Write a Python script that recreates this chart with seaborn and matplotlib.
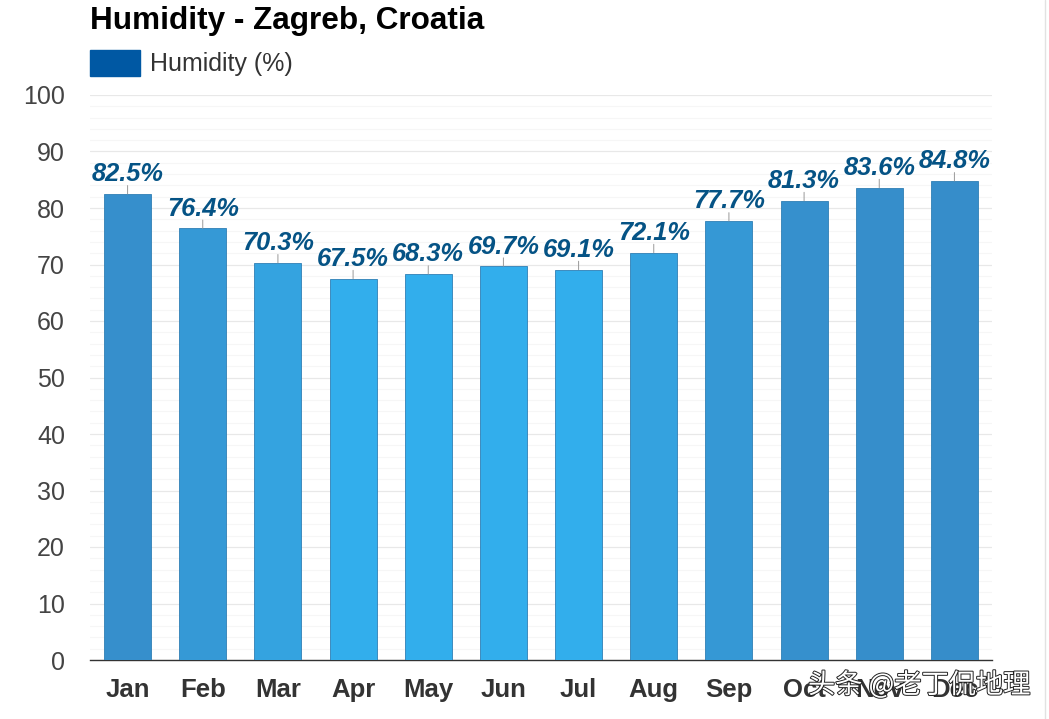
import matplotlib
matplotlib.use("Agg")
import matplotlib.pyplot as plt
import matplotlib.patheffects as pe
from matplotlib.lines import Line2D
from matplotlib.patches import Patch
import numpy as np
import pandas as pd
import seaborn as sns

months = ["Jan", "Feb", "Mar", "Apr", "May", "Jun", "Jul", "Aug", "Sep", "Oct", "Nov", "Dec"]
humidity = [82.5, 76.4, 70.3, 67.5, 68.3, 69.7, 69.1, 72.1, 77.7, 81.3, 83.6, 84.8]
bar_colors = ["#368fcc", "#3599d6", "#34a3e0", "#32aeec", "#32aeec", "#32aeec",
              "#32aeec", "#34a2df", "#3598d5", "#3690cd", "#368ecb", "#368dca"]
y_ticks = [0, 10, 20, 30, 40, 50, 60, 70, 80, 90, 100]

sns.set_theme(style="white")
plt.rcParams["font.family"] = ["Liberation Sans", "DejaVu Sans"]

df = pd.DataFrame({"month": months, "humidity": humidity})

fig = plt.figure(figsize=(10.49, 7.19), dpi=100)
ax = fig.add_axes([90 / 1049, 1 - 660 / 719, 902 / 1049, 565 / 719])

sns.barplot(data=df, x="month", y="humidity", hue="month", palette=bar_colors,
            saturation=1, width=0.625, legend=False, edgecolor="#2f7fb5", linewidth=0.6,
            ax=ax, zorder=3)

ax.set_xlim(-0.5, 11.5)
ax.set_ylim(0, 100)
ax.set_xlabel("")
ax.set_ylabel("")

# light grid, stronger every 10
ax.set_yticks(y_ticks)
ax.set_yticks(np.arange(0, 101, 2), minor=True)
ax.grid(axis="y", which="major", color="#e8e8e8", linewidth=0.9, zorder=0)
ax.grid(axis="y", which="minor", color="#f6f6f6", linewidth=0.8, zorder=0)
ax.set_axisbelow(True)

for side in ["top", "right", "left"]:
    ax.spines[side].set_visible(False)
ax.spines["bottom"].set_color("#333333")
ax.spines["bottom"].set_linewidth(1.0)

ax.tick_params(axis="y", which="both", length=0, labelsize=18, labelcolor="#444444", pad=18)
ax.tick_params(axis="x", length=0, labelsize=18.5, labelcolor="#333333", pad=13)
for lab in ax.get_xticklabels():
    lab.set_fontweight("bold")

# value labels with the small leader line
for i, v in enumerate(humidity):
    ax.annotate("", xy=(i, v), xytext=(0, 6), textcoords="offset points",
                arrowprops=dict(arrowstyle="-", color="#999999", lw=0.7, shrinkA=0, shrinkB=0))
    ax.annotate(f"{v}%", xy=(i, v), xytext=(0, 5.5), textcoords="offset points",
                ha="center", va="bottom", fontsize=18.3, fontweight="bold",
                fontstyle="italic", color="#055385", zorder=5)

handle = Patch(facecolor="#0058a3", edgecolor="#0058a3")
fig.legend(handles=[handle], labels=["Humidity (%)"], loc="upper left",
           bbox_to_anchor=(90 / 1049, 1 - 50 / 719), borderaxespad=0, borderpad=0,
           frameon=False, fontsize=18, labelcolor="#333333",
           handlelength=2.0, handleheight=1.2, handletextpad=0.4)

fig.text(90 / 1049, 1 - 20.5 / 719, "Humidity - Zagreb, Croatia", fontsize=22.7,
         fontweight="bold", color="#000000", ha="left", va="center")

# thin border on the right of the screenshot
fig.add_artist(Line2D([1045 / 1049, 1045 / 1049], [0, 1], color="#e2e2e2", linewidth=1.0))

# watermark over the tick labels
fig.text(808 / 1049, 1 - 685 / 719, "头条 @老丁侃地理", fontsize=19.6, color="#ffffff",
         family=["Noto Sans CJK SC", "DejaVu Sans"], ha="left", va="center", zorder=10,
         path_effects=[pe.withStroke(linewidth=1.4, foreground="#222222")])

fig.savefig("out.png", dpi=100)
